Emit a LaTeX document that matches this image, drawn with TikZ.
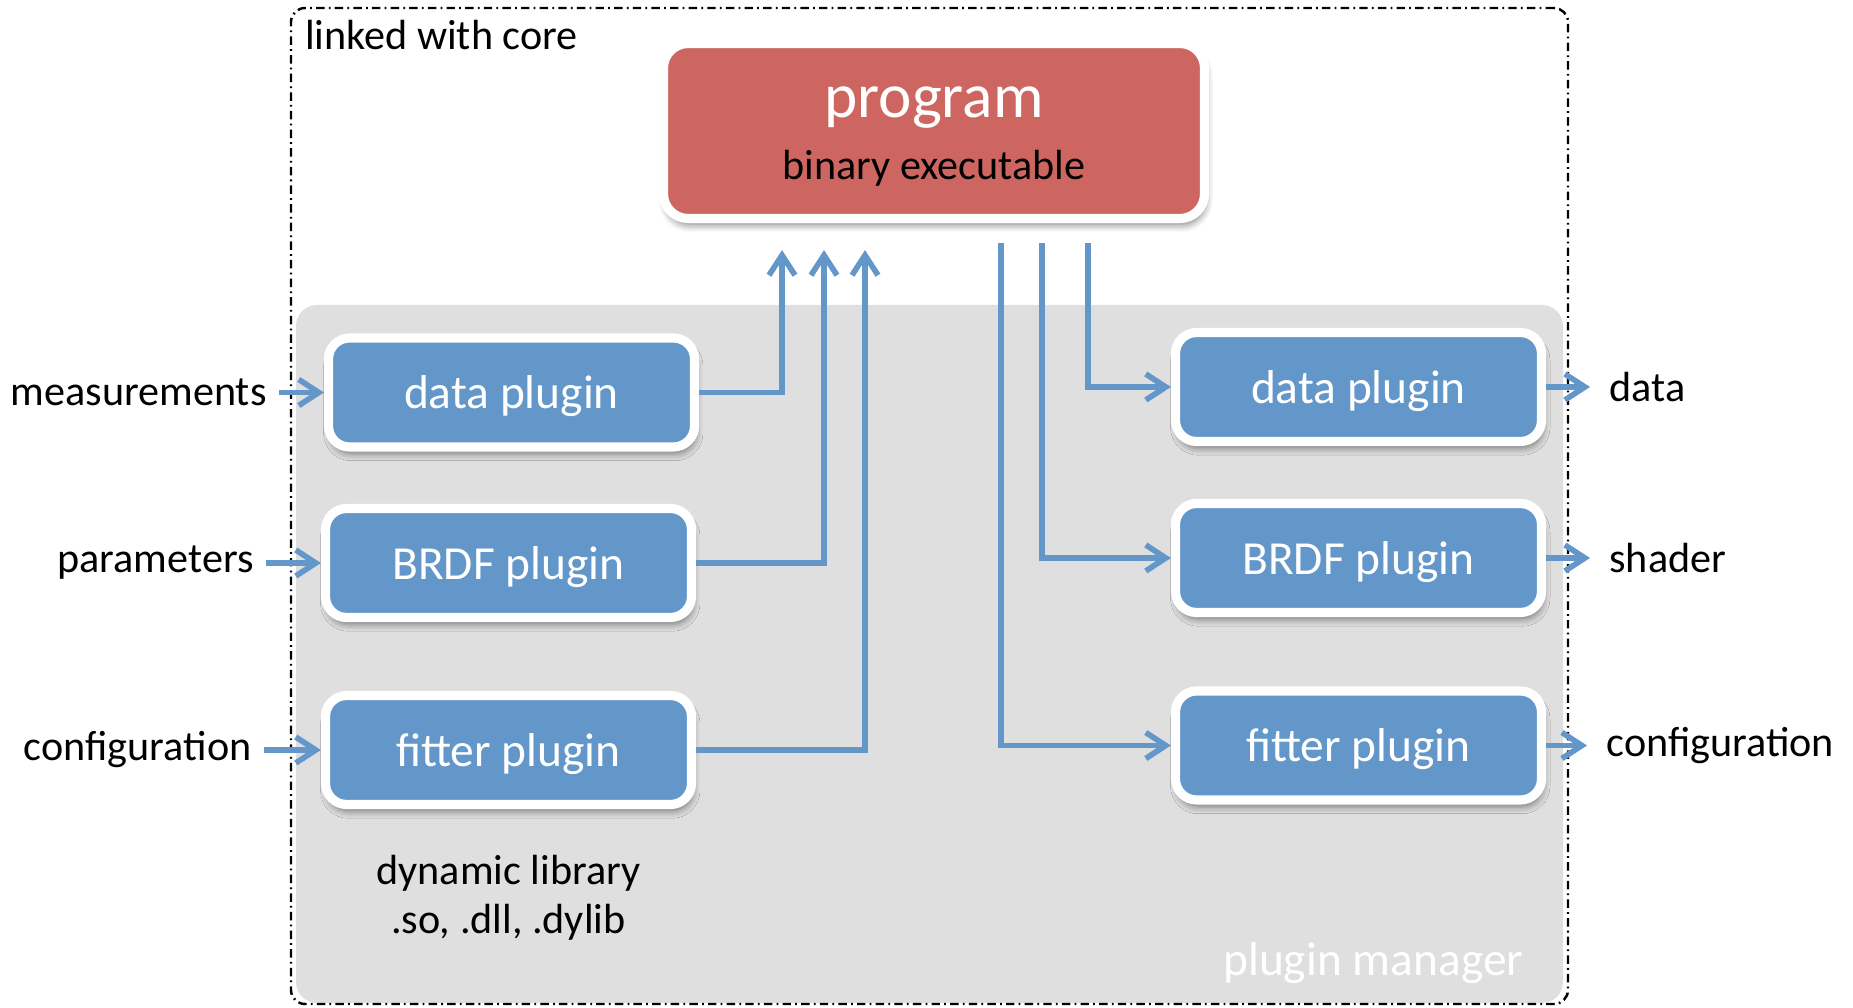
\documentclass[tikz,border=0pt]{standalone}
\usepackage{fontspec}
\setmainfont{Carlito}
\usepackage{tikz}
\usetikzlibrary{positioning,arrows.meta,shadows.blur,calc}
\definecolor{blue1}{HTML}{6396C9}
\definecolor{red1}{HTML}{CD6661}
\definecolor{gray1}{HTML}{DFDFDF}

\begin{document}
\begin{tikzpicture}[
    >=Straight Barb,
    plug/.style={draw=white, line width=2.6pt, fill=blue1, rounded corners=6pt,
                 minimum width=3.66cm, minimum height=1.09cm, text=white,
                 text depth=0pt, font=\fontsize{13.5}{16}\selectfont,
                 blur shadow={shadow blur steps=5, shadow xshift=0.5pt,
                 shadow yshift=-2pt, shadow opacity=45}},
    lbl/.style={font=\fontsize{12}{14}\selectfont},
    flow/.style={-{Straight Barb[length=2mm,width=2.6mm]}, line width=1.6pt,
                 color=blue1},
]
\useasboundingbox (0,0) rectangle (18.53,10.07);

% -- plugin manager area --
\node[fill=gray1, rounded corners=6pt, minimum width=12.67cm,
      minimum height=6.98cm] (pm) at (9.295,3.53) {};
\node[anchor=east, text=white, font=\fontsize{13.5}{16}\selectfont]
    (pmlbl) at ([xshift=-0.28cm,yshift=0.41cm]pm.south east) {plugin manager};

% -- core frame --
\node[draw, line width=0.7pt, rounded corners=4pt,
      dash pattern=on 2.4pt off 1.2pt on 0.5pt off 1.2pt,
      minimum width=12.77cm, minimum height=9.96cm] (core) at (9.295,5.01) {};
\node[lbl, anchor=north west] (corelbl)
    at ([xshift=0.03cm,yshift=-0.015cm]core.north west) {linked with core};

% -- program --
\node[draw=white, line width=2.6pt, fill=red1, rounded corners=7pt,
      minimum width=5.41cm, minimum height=1.75cm, align=center, text=white,
      blur shadow={shadow blur steps=5, shadow xshift=0.5pt,
      shadow yshift=-2pt, shadow opacity=45}] (prog) at (9.34,8.76)
    {\fontsize{18}{18}\selectfont\rule{0pt}{12pt}program\\[5.7pt]
     \color{black}\fontsize{12}{18}\selectfont binary executable};

% -- plugins, left --
\node[plug] (ldata) at (5.115,6.145) {data plugin};
\node[plug] (lbrdf) at (5.085,4.44) {BRDF plugin};
\node[plug] (lfit) at (5.085,2.57) {fitter plugin};
\node[lbl, align=center, below=0.34cm of lfit] (dynlib)
    {dynamic library\\.so, .dll, .dylib};

% -- plugins, right --
\node[plug] (rdata) at (13.585,6.20) {data plugin};
\node[plug] (rbrdf) at (13.585,4.49) {BRDF plugin};
\node[plug] (rfit) at (13.585,2.615) {fitter plugin};

% -- inputs / outputs --
\node[lbl, left=0.45cm of ldata] (meas) {measurements};
\node[lbl, left=0.55cm of lbrdf] (param) {parameters};
\node[lbl, left=0.57cm of lfit] (lconf) {configuration};
\node[lbl, right=0.51cm of rdata] (odata) {data};
\node[lbl, right=0.51cm of rbrdf] (shader) {shader};
\node[lbl, right=0.48cm of rfit] (rconf) {configuration};

\draw[flow] (meas) -- (ldata);
\draw[flow] (param) -- (lbrdf);
\draw[flow] (lconf) -- (lfit);
\draw[flow, shorten >=2pt] (rdata) -- (odata);
\draw[flow, shorten >=2pt] (rbrdf) -- (shader);
\draw[flow, shorten >=2pt] (rfit) -- (rconf);

% -- to / from program --
\draw[flow, shorten >=0.27cm] (ldata.east) -| ([xshift=-1.52cm]prog.south);
\draw[flow, shorten >=0.27cm] (lbrdf.east) -| ([xshift=-1.10cm]prog.south);
\draw[flow, shorten >=0.27cm] (lfit.east) -| ([xshift=-0.69cm]prog.south);
\draw[flow, shorten <=0.20cm] ([xshift=1.54cm]prog.south) |- (rdata.west);
\draw[flow, shorten <=0.20cm] ([xshift=1.08cm]prog.south) |- (rbrdf.west);
\draw[flow, shorten <=0.20cm] ([xshift=0.67cm]prog.south) |- (rfit.west);

\end{tikzpicture}
\end{document}
